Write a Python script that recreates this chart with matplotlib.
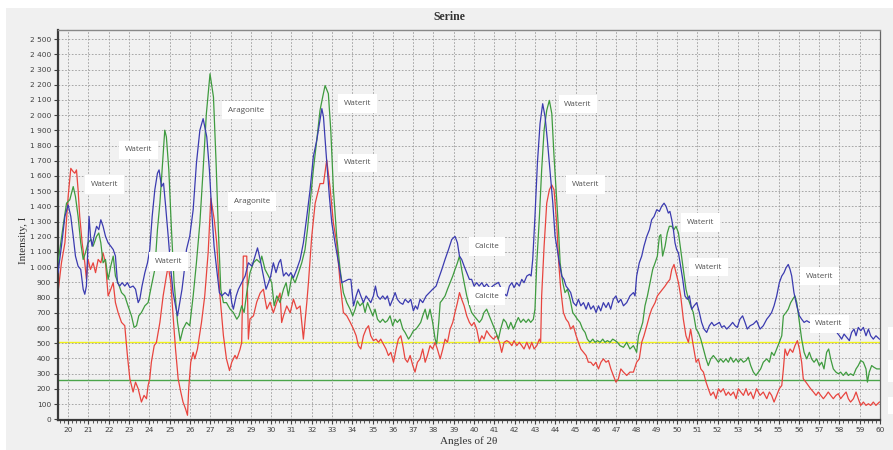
import matplotlib
matplotlib.use("Agg")
import matplotlib.pyplot as plt
from matplotlib.patches import Rectangle
from matplotlib.ticker import MultipleLocator, FuncFormatter

# ---------------- data ----------------
blue_x = [19.5, 19.67, 19.84, 20.0, 20.13, 20.25, 20.36, 20.49, 20.62, 20.74,
          20.82, 20.9, 20.98, 21.03, 21.1, 21.18, 21.28, 21.4, 21.51, 21.61,
          21.72, 21.84, 21.97, 22.1, 22.22, 22.33, 22.43, 22.54, 22.66, 22.79,
          22.92, 23.04, 23.2, 23.32, 23.45, 23.53, 23.64, 23.78, 23.91, 24.02,
          24.14, 24.27, 24.4, 24.48, 24.6, 24.7, 24.79, 24.93, 25.06, 25.17,
          25.29, 25.39, 25.5, 25.61, 25.71, 25.83, 25.99, 26.16, 26.32, 26.49,
          26.65, 26.83, 26.96, 27.08, 27.19, 27.32, 27.45, 27.57, 27.73, 27.9,
          27.98, 28.06, 28.14, 28.28, 28.39, 28.55, 28.72, 28.88, 29.05, 29.16,
          29.33, 29.46, 29.62, 29.75, 29.87, 29.98, 30.11, 30.24, 30.38, 30.47,
          30.61, 30.74, 30.87, 30.97, 31.1, 31.26, 31.43, 31.59, 31.76, 31.92,
          32.08, 32.25, 32.38, 32.5, 32.58, 32.71, 32.87, 32.99, 33.15, 33.32,
          33.48, 33.65, 33.81, 33.93, 34.06, 34.19, 34.3, 34.42, 34.55, 34.68,
          34.8, 34.91, 35.04, 35.14, 35.24, 35.37, 35.5, 35.62, 35.73, 35.86,
          35.99, 36.11, 36.22, 36.35, 36.49, 36.6, 36.76, 36.88, 37.01, 37.11,
          37.21, 37.34, 37.47, 37.64, 37.8, 37.96, 38.13, 38.24, 38.41, 38.57,
          38.74, 38.9, 39.06, 39.18, 39.28, 39.39, 39.51, 39.64, 39.77, 39.88,
          40.0, 40.13, 40.25, 40.38, 40.5, 40.62, 40.79, 40.95, 41.2, 41.3,
          41.45, 41.61, 41.74, 41.86, 41.97, 42.1, 42.23, 42.35, 42.46, 42.6,
          42.73, 42.81, 42.89, 43.0, 43.12, 43.25, 43.38, 43.5, 43.61, 43.74,
          43.88, 43.99, 44.1, 44.2, 44.32, 44.43, 44.53, 44.65, 44.76, 44.89,
          45.03, 45.14, 45.26, 45.39, 45.52, 45.63, 45.75, 45.88, 46.01, 46.13,
          46.24, 46.37, 46.5, 46.62, 46.73, 46.86, 46.99, 47.11, 47.23, 47.36,
          47.52, 47.68, 47.85, 47.93, 48.01, 48.14, 48.26, 48.37, 48.51, 48.64,
          48.75, 48.87, 49.0, 49.13, 49.24, 49.36, 49.46, 49.57, 49.65, 49.74,
          49.82, 49.9, 49.98, 50.07, 50.15, 50.28, 50.39, 50.51, 50.61, 50.72,
          50.84, 50.97, 51.1, 51.21, 51.33, 51.46, 51.59, 51.71, 51.82, 51.95,
          52.09, 52.2, 52.32, 52.45, 52.61, 52.74, 52.86, 52.97, 53.1, 53.23,
          53.35, 53.46, 53.6, 53.76, 53.92, 54.09, 54.25, 54.42, 54.55, 54.66,
          54.78, 54.91, 55.04, 55.16, 55.27, 55.37, 55.48, 55.57, 55.65, 55.76,
          55.9, 56.03, 56.14, 56.26, 56.39, 56.52, 56.7, 57.0, 57.3, 57.6,
          57.87, 58.0, 58.11, 58.23, 58.36, 58.49, 58.6, 58.72, 58.82, 58.93,
          59.05, 59.18, 59.31, 59.43, 59.54, 59.67, 59.8, 59.97]
blue_y = [964, 1138, 1334, 1410, 1334, 1203, 1073, 1007, 985, 855,
          822, 876, 1160, 1334, 1203, 1138, 1203, 1269, 1247, 1312,
          1269, 1203, 1160, 1138, 1116, 1073, 898, 876, 898, 876,
          898, 866, 876, 855, 767, 789, 876, 964, 1029, 1116,
          1334, 1509, 1618, 1640, 1530, 1552, 1421, 1203, 985, 833,
          746, 680, 767, 855, 964, 1116, 1203, 1378, 1683, 1901,
          1977, 1857, 1640, 1356, 1138, 985, 833, 811, 833, 811,
          855, 767, 724, 811, 855, 898, 942, 1029, 1007, 1051,
          1127, 1051, 942, 855, 898, 942, 1029, 964, 1029, 1051,
          942, 964, 942, 964, 931, 985, 1051, 1160, 1334, 1509,
          1727, 1836, 1945, 2043, 1988, 1748, 1465, 1291, 1160, 1029,
          898, 909, 920, 920, 746, 811, 855, 811, 767, 811,
          789, 767, 811, 876, 811, 789, 811, 789, 811, 746,
          789, 833, 789, 767, 756, 789, 767, 789, 713, 746,
          724, 789, 767, 811, 833, 855, 876, 920, 985, 1051,
          1116, 1182, 1203, 1160, 1073, 1051, 1007, 964, 920, 920,
          876, 898, 876, 898, 870, 890, 860, 880, 900, 870,
          830, 811, 876, 898, 866, 898, 876, 920, 898, 942,
          953, 942, 1051, 1334, 1683, 1945, 2075, 1988, 1836, 1640,
          1421, 1203, 1116, 1029, 942, 920, 876, 855, 833, 767,
          746, 789, 746, 767, 724, 767, 724, 746, 702, 746,
          713, 767, 735, 767, 724, 789, 811, 767, 789, 746,
          767, 811, 833, 811, 942, 1029, 1073, 1138, 1203, 1247,
          1312, 1334, 1378, 1367, 1400, 1421, 1400, 1356, 1367, 1312,
          1247, 1160, 1116, 1094, 1029, 920, 811, 789, 811, 724,
          746, 767, 702, 637, 593, 571, 615, 637, 615, 626,
          637, 604, 615, 593, 615, 637, 615, 604, 658, 680,
          637, 593, 615, 626, 648, 593, 615, 658, 680, 702,
          746, 811, 898, 942, 964, 996, 1018, 985, 942, 833,
          746, 680, 658, 637, 648, 637, 640, 620, 630, 610,
          571, 549, 527, 560, 538, 517, 571, 593, 549, 604,
          582, 604, 549, 593, 549, 527, 549, 527]

green_x = [19.5, 19.75, 19.92, 20.08, 20.25, 20.36, 20.49, 20.62, 20.74, 20.85,
           20.98, 21.12, 21.23, 21.4, 21.51, 21.61, 21.72, 21.84, 21.97, 22.1,
           22.22, 22.33, 22.46, 22.63, 22.79, 22.95, 23.12, 23.25, 23.37, 23.48,
           23.61, 23.78, 23.94, 24.1, 24.27, 24.4, 24.52, 24.63, 24.76, 24.84,
           24.96, 25.09, 25.22, 25.39, 25.52, 25.66, 25.83, 25.99, 26.16, 26.32,
           26.49, 26.65, 26.81, 26.99, 27.16, 27.29, 27.4, 27.52, 27.65, 27.8,
           27.98, 28.14, 28.31, 28.42, 28.55, 28.67, 28.8, 28.96, 29.13, 29.29,
           29.46, 29.54, 29.7, 29.87, 30.03, 30.15, 30.28, 30.44, 30.61, 30.74,
           30.85, 31.02, 31.18, 31.35, 31.51, 31.67, 31.79, 31.92, 32.08, 32.25,
           32.41, 32.54, 32.66, 32.82, 32.94, 33.07, 33.23, 33.4, 33.56, 33.73,
           33.89, 34.02, 34.14, 34.25, 34.38, 34.52, 34.63, 34.75, 34.88, 35.01,
           35.12, 35.24, 35.37, 35.5, 35.62, 35.73, 35.86, 35.99, 36.11, 36.22,
           36.35, 36.49, 36.6, 36.77, 36.88, 37.01, 37.14, 37.26, 37.37, 37.47,
           37.59, 37.7, 37.83, 37.96, 38.08, 38.16, 38.26, 38.33, 38.46, 38.57,
           38.69, 38.82, 38.95, 39.06, 39.18, 39.28, 39.39, 39.51, 39.64, 39.77,
           39.88, 40.0, 40.13, 40.26, 40.38, 40.49, 40.62, 40.75, 40.95, 41.08,
           41.2, 41.31, 41.45, 41.58, 41.69, 41.81, 41.94, 42.07, 42.18, 42.3,
           42.43, 42.56, 42.68, 42.79, 42.92, 43.0, 43.09, 43.22, 43.33, 43.45,
           43.58, 43.71, 43.83, 43.94, 44.04, 44.16, 44.24, 44.37, 44.48, 44.6,
           44.73, 44.86, 44.98, 45.09, 45.22, 45.35, 45.47, 45.58, 45.71, 45.85,
           45.96, 46.08, 46.21, 46.34, 46.45, 46.57, 46.7, 46.83, 46.95, 47.06,
           47.19, 47.36, 47.52, 47.68, 47.85, 47.93, 48.01, 48.1, 48.21, 48.31,
           48.42, 48.54, 48.67, 48.8, 48.92, 49.03, 49.13, 49.2, 49.29, 49.41,
           49.52, 49.62, 49.74, 49.85, 49.95, 50.07, 50.18, 50.31, 50.44, 50.56,
           50.67, 50.8, 50.94, 51.05, 51.17, 51.3, 51.43, 51.54, 51.66, 51.79,
           51.92, 52.04, 52.15, 52.28, 52.41, 52.53, 52.64, 52.78, 52.91, 53.02,
           53.14, 53.27, 53.4, 53.51, 53.63, 53.76, 53.89, 54.01, 54.12, 54.25,
           54.42, 54.55, 54.66, 54.78, 54.91, 55.04, 55.16, 55.24, 55.37, 55.48,
           55.6, 55.7, 55.81, 55.9, 56.03, 56.14, 56.26, 56.39, 56.52, 56.63,
           56.75, 56.88, 57.01, 57.13, 57.24, 57.37, 57.47, 57.57, 57.7, 57.83,
           57.95, 58.06, 58.19, 58.33, 58.44, 58.55, 58.69, 58.82, 58.93, 59.05,
           59.18, 59.31, 59.38, 59.47, 59.59, 59.7, 59.84, 59.97]
green_y = [1029, 1269, 1421, 1443, 1530, 1465, 1334, 1160, 1051, 1094,
           1160, 1182, 1138, 1203, 1225, 1160, 1029, 1051, 920, 1007,
           1073, 942, 898, 833, 811, 746, 680, 604, 615, 680,
           702, 746, 767, 876, 985, 1247, 1421, 1640, 1901, 1857,
           1640, 1247, 898, 637, 517, 593, 637, 615, 811, 1029,
           1291, 1640, 2010, 2272, 2119, 1683, 1247, 855, 767, 767,
           724, 702, 658, 680, 746, 702, 833, 964, 1029, 1051,
           1029, 1073, 985, 942, 898, 746, 811, 767, 855, 898,
           811, 942, 898, 964, 1029, 1116, 1247, 1421, 1640, 1836,
           2032, 2119, 2195, 2141, 1901, 1509, 1203, 985, 833, 767,
           724, 680, 724, 778, 746, 767, 702, 767, 724, 680,
           724, 658, 637, 658, 637, 648, 680, 615, 658, 637,
           658, 593, 571, 527, 549, 582, 593, 615, 637, 680,
           724, 658, 724, 637, 527, 495, 637, 767, 789, 811,
           855, 898, 942, 985, 1029, 1073, 985, 898, 811, 746,
           702, 680, 658, 637, 658, 702, 724, 680, 615, 571,
           527, 593, 658, 637, 593, 637, 593, 637, 669, 637,
           658, 637, 658, 637, 658, 724, 1029, 1334, 1640, 1901,
           2032, 2097, 2010, 1727, 1509, 1247, 1029, 898, 833, 855,
           789, 702, 680, 658, 637, 593, 571, 527, 506, 527,
           506, 517, 506, 527, 506, 517, 506, 527, 517, 506,
           484, 473, 506, 462, 484, 462, 440, 549, 593, 637,
           746, 811, 898, 985, 1029, 1073, 1203, 1214, 1073, 1138,
           1225, 1269, 1269, 1247, 1269, 1225, 1116, 985, 855, 789,
           746, 702, 593, 571, 527, 462, 397, 353, 397, 419,
           397, 375, 397, 375, 397, 375, 408, 375, 397, 375,
           397, 375, 386, 408, 353, 310, 288, 310, 331, 375,
           397, 375, 440, 419, 462, 506, 549, 680, 702, 724,
           767, 789, 811, 767, 637, 527, 440, 397, 440, 397,
           375, 397, 353, 375, 331, 440, 462, 397, 331, 310,
           299, 310, 288, 310, 288, 299, 288, 331, 353, 386,
           375, 331, 244, 310, 353, 342, 331, 331]

red_x = [19.5, 19.67, 19.84, 20.0, 20.13, 20.25, 20.33, 20.41, 20.49, 20.57,
         20.69, 20.82, 20.9, 20.98, 21.1, 21.23, 21.35, 21.48, 21.61, 21.72,
         21.84, 21.97, 22.1, 22.22, 22.33, 22.46, 22.63, 22.79, 22.92, 23.04,
         23.2, 23.32, 23.45, 23.61, 23.74, 23.86, 23.94, 24.02, 24.1, 24.24,
         24.35, 24.52, 24.68, 24.84, 24.93, 25.06, 25.17, 25.29, 25.42, 25.55,
         25.66, 25.78, 25.88, 25.94, 26.04, 26.16, 26.24, 26.37, 26.57, 26.73,
         26.9, 27.03, 27.2, 27.32, 27.48, 27.65, 27.8, 27.95, 28.06, 28.22,
         28.31, 28.47, 28.55, 28.63, 28.8, 28.88, 28.96, 29.13, 29.29, 29.46,
         29.62, 29.7, 29.79, 29.95, 30.11, 30.28, 30.44, 30.52, 30.61, 30.77,
         30.94, 31.1, 31.26, 31.43, 31.59, 31.76, 31.84, 32.0, 32.17, 32.41,
         32.58, 32.74, 32.9, 33.07, 33.23, 33.4, 33.56, 33.73, 33.9, 34.06,
         34.19, 34.3, 34.42, 34.55, 34.68, 34.8, 34.91, 35.04, 35.17, 35.29,
         35.4, 35.53, 35.66, 35.78, 35.9, 36.03, 36.16, 36.27, 36.39, 36.49,
         36.6, 36.72, 36.85, 36.98, 37.09, 37.21, 37.34, 37.47, 37.59, 37.7,
         37.83, 37.96, 38.08, 38.19, 38.33, 38.46, 38.57, 38.69, 38.82, 38.95,
         39.06, 39.18, 39.28, 39.39, 39.51, 39.64, 39.77, 39.88, 40.0, 40.13,
         40.26, 40.38, 40.49, 40.62, 40.79, 40.95, 41.12, 41.25, 41.36, 41.48,
         41.61, 41.74, 41.86, 41.97, 42.1, 42.23, 42.35, 42.46, 42.6, 42.73,
         42.84, 42.96, 43.09, 43.22, 43.28, 43.33, 43.45, 43.58, 43.71, 43.83,
         43.94, 44.07, 44.17, 44.27, 44.4, 44.53, 44.65, 44.76, 44.89, 45.03,
         45.14, 45.26, 45.39, 45.52, 45.63, 45.75, 45.88, 46.0, 46.13, 46.25,
         46.37, 46.5, 46.62, 46.74, 46.86, 46.99, 47.11, 47.23, 47.36, 47.52,
         47.68, 47.85, 48.01, 48.14, 48.26, 48.37, 48.51, 48.64, 48.75, 48.92,
         49.03, 49.16, 49.29, 49.41, 49.52, 49.65, 49.74, 49.85, 49.95, 50.07,
         50.18, 50.31, 50.44, 50.56, 50.67, 50.8, 50.94, 51.05, 51.17, 51.3,
         51.43, 51.54, 51.66, 51.79, 51.92, 52.04, 52.15, 52.28, 52.41, 52.53,
         52.64, 52.78, 52.91, 53.02, 53.14, 53.27, 53.4, 53.51, 53.63, 53.76,
         53.92, 54.09, 54.25, 54.42, 54.55, 54.66, 54.78, 54.91, 55.04, 55.16,
         55.24, 55.32, 55.43, 55.57, 55.7, 55.81, 55.93, 56.03, 56.14, 56.22,
         56.35, 56.47, 56.58, 56.72, 56.85, 56.96, 57.08, 57.21, 57.34, 57.45,
         57.57, 57.7, 57.83, 57.95, 58.06, 58.19, 58.33, 58.44, 58.55, 58.69,
         58.82, 58.93, 59.05, 59.18, 59.31, 59.43, 59.54, 59.67, 59.8, 59.97]
red_y = [833, 1029, 1160, 1465, 1650, 1628, 1618, 1640, 1509, 1334,
         1160, 1029, 920, 1051, 985, 1029, 964, 1051, 1029, 1094,
         1029, 811, 855, 898, 767, 702, 637, 615, 419, 266,
         179, 244, 201, 113, 157, 135, 222, 266, 375, 484,
         506, 637, 811, 942, 1007, 898, 680, 462, 266, 179,
         113, 70, 26, 201, 375, 440, 397, 462, 637, 811,
         1100, 1454, 1312, 1160, 811, 550, 397, 320, 375, 420,
         397, 460, 505, 1073, 1073, 527, 660, 680, 770, 830,
         855, 790, 725, 770, 700, 770, 830, 636, 680, 745,
         700, 790, 725, 745, 527, 770, 900, 1200, 1420, 1550,
         1550, 1705, 1530, 1290, 1160, 898, 702, 680, 637, 593,
         549, 484, 462, 549, 593, 615, 549, 517, 527, 506,
         527, 495, 462, 419, 440, 375, 462, 527, 549, 484,
         397, 375, 419, 353, 310, 375, 397, 462, 375, 419,
         484, 462, 506, 462, 397, 462, 527, 506, 593, 637,
         702, 767, 833, 789, 746, 680, 637, 615, 637, 593,
         506, 549, 527, 582, 549, 527, 549, 506, 440, 506,
         517, 506, 484, 517, 484, 506, 484, 462, 506, 462,
         506, 462, 484, 527, 506, 811, 1138, 1421, 1509, 1541,
         1509, 1291, 1029, 855, 702, 658, 637, 593, 615, 549,
         506, 462, 440, 419, 375, 375, 353, 375, 331, 375,
         397, 375, 386, 331, 288, 244, 266, 331, 310, 288,
         310, 310, 375, 397, 506, 549, 615, 680, 724, 767,
         811, 833, 855, 876, 898, 920, 985, 1018, 964, 898,
         811, 658, 549, 506, 593, 484, 375, 397, 331, 310,
         244, 201, 157, 179, 135, 201, 179, 201, 157, 179,
         157, 179, 135, 201, 179, 157, 201, 157, 179, 135,
         201, 157, 179, 135, 179, 157, 113, 157, 201, 222,
         331, 462, 419, 462, 440, 484, 517, 462, 375, 266,
         244, 222, 201, 179, 157, 179, 157, 135, 157, 179,
         157, 135, 157, 168, 135, 157, 179, 135, 113, 135,
         179, 135, 91, 113, 91, 102, 91, 113, 91, 113]

hline_levels = [510, 255]

label_texts = ["Waterit", "Waterit", "Waterit", "Aragonite", "Aragonite",
               "Waterit", "Waterit", "Calcite", "Calcite", "Waterit",
               "Waterit", "Waterit", "Waterit", "Waterit", "Waterit"]
label_x = [21.77, 23.45, 24.93, 28.77, 29.06, 34.24, 34.24, 40.64, 40.64,
           45.12, 45.47, 51.18, 51.53, 57.04, 57.49]
label_y = [1542, 1771, 1039, 2033, 1431, 2078, 1686, 1137, 810, 2072,
           1542, 1294, 1000, 941, 627]

title_text = "Serine"
xlabel_text = "Angles of 2\u03b8"
ylabel_text = "Intensity, I"

# ---------------- figure ----------------
W, H = 893, 450
fig = plt.figure(figsize=(W / 100, H / 100), dpi=100, facecolor="white")
fig.patches.append(Rectangle((6 / W, 0), 1, (H - 8) / H, transform=fig.transFigure,
                             facecolor="#f0f0f0", edgecolor="none", zorder=-10))
# partially visible white boxes at the right edge
for (y0, y1) in [(327, 350), (360, 382), (397, 414)]:
    fig.patches.append(Rectangle((888 / W, 1 - y1 / H), 10 / W, (y1 - y0) / H,
                                 transform=fig.transFigure, facecolor="white",
                                 edgecolor="none", zorder=-5))

ax = fig.add_axes([58 / W, 30 / H, 822 / W, 390 / H])
ax.set_facecolor("#f1f1f1")

ax.plot(blue_x, blue_y, color="#3b3bb0", lw=0.9, zorder=4)
ax.plot(green_x, green_y, color="#3f9b3f", lw=0.9, zorder=3)
ax.plot(red_x, red_y, color="#e8453f", lw=0.9, zorder=2)

ax.axhline(hline_levels[0], color="#f2f21a", lw=1.0, zorder=1.5)
ax.axhline(hline_levels[1], color="#4aa54a", lw=1.0, zorder=1.5)

for t, x, y in zip(label_texts, label_x, label_y):
    ax.text(x, y, t, ha="center", va="center", fontsize=5.8, color="#505050",
            family=["Open Sans", "DejaVu Sans"], zorder=10,
            bbox=dict(boxstyle="square,pad=0.72", facecolor="white", edgecolor="none"))

ax.set_xlim(19.5, 60)
ax.set_ylim(-5, 2560)
ax.xaxis.set_major_locator(MultipleLocator(1))
ax.xaxis.set_minor_locator(MultipleLocator(0.2))
ax.yaxis.set_major_locator(MultipleLocator(100))
ax.yaxis.set_major_formatter(FuncFormatter(lambda v, p: f"{int(round(v)):,}".replace(",", " ")))
ax.xaxis.set_major_formatter(FuncFormatter(lambda v, p: f"{int(round(v))}"))

ax.grid(True, which="major", color="#9a9a9a", lw=0.6, linestyle=(0, (2, 2)))
ax.tick_params(axis="both", which="major", labelsize=5.3, labelcolor="#404040",
               color="#404040", length=3, width=0.8, pad=2)
ax.tick_params(axis="x", which="minor", length=2, width=0.6, color="#404040")

for s in ["left", "bottom"]:
    ax.spines[s].set_color("#3a3a3a")
    ax.spines[s].set_linewidth(1.6)
ax.spines["top"].set_color("#888888")
ax.spines["top"].set_linewidth(1.0)
ax.spines["right"].set_color("#666666")
ax.spines["right"].set_linewidth(0.9)
ax.spines["right"].set_linestyle((0, (1, 1)))

serif = ["Liberation Serif", "DejaVu Serif"]
fig.text(449 / W, 1 - 17 / H, title_text, ha="center", va="center",
         fontsize=8.5, fontweight="bold", family=serif, color="#333333")
fig.text(469 / W, 1 - 441 / H, xlabel_text, ha="center", va="center",
         fontsize=8, family=serif, color="#333333")
fig.text(24 / W, 1 - 240 / H, ylabel_text, ha="center", va="center", rotation=90,
         fontsize=8, family=serif, color="#333333")

fig.savefig("out.png", dpi=100, facecolor=fig.get_facecolor())
